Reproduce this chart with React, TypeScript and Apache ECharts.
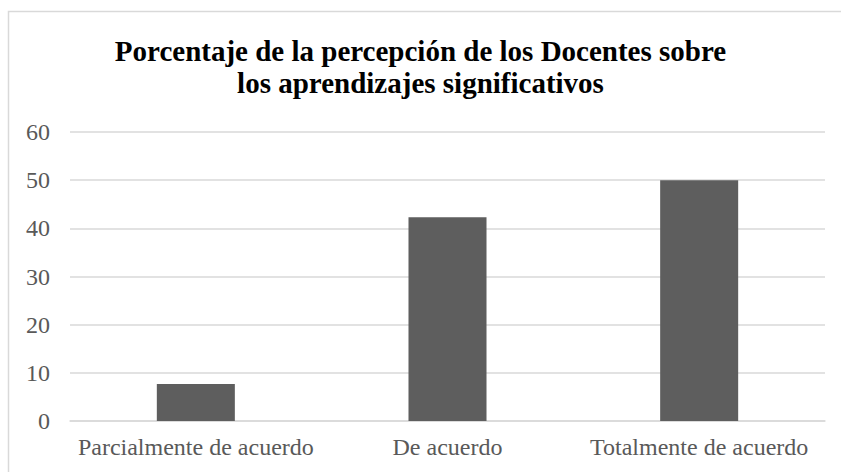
import React, { useEffect, useRef } from "react";
import * as echarts from "echarts";

const titleLines = [
  "Porcentaje de la percepción de los Docentes sobre",
  "los aprendizajes significativos",
];
const categories = ["Parcialmente de acuerdo", "De acuerdo", "Totalmente de acuerdo"];
const values = [7.69, 42.31, 50];
const yMin = 0;
const yMax = 60;
const yInterval = 10;

export default function App() {
  const ref = useRef<HTMLDivElement>(null);
  useEffect(() => {
    if (!ref.current) return;
    const chart = echarts.init(ref.current, undefined, { renderer: "svg" });
    const serif = "Times New Roman, serif";
    chart.setOption({
      animation: false,
      backgroundColor: "#ffffff",
      title: {
        text: titleLines.join("\n"),
        left: "center",
        top: 30,
        textStyle: {
          fontFamily: serif,
          fontWeight: "bold",
          fontSize: 29,
          color: "#000000",
          lineHeight: 32,
        },
      },
      graphic: [
        {
          type: "rect",
          shape: { x: 8.5, y: 11.5, width: 900, height: 600 },
          style: { fill: "none", stroke: "#d9d9d9", lineWidth: 1.5 },
          silent: true,
          z: -1,
        },
      ],
      grid: { left: 70, right: 16, top: 132, bottom: 51, containLabel: false },
      xAxis: {
        type: "category",
        data: categories,
        axisLine: { show: true, lineStyle: { color: "#d9d9d9", width: 1.5 } },
        axisTick: { show: false },
        axisLabel: {
          fontFamily: serif,
          fontSize: 24,
          color: "#595959",
          margin: 14,
          interval: 0,
        },
      },
      yAxis: {
        type: "value",
        min: yMin,
        max: yMax,
        interval: yInterval,
        axisLine: { show: false },
        axisTick: { show: false },
        splitLine: { lineStyle: { color: "#d9d9d9", width: 1.5 } },
        axisLabel: {
          fontFamily: serif,
          fontSize: 24,
          color: "#595959",
          margin: 20,
        },
      },
      series: [
        {
          type: "bar",
          data: values,
          barWidth: "31%",
          itemStyle: { color: "#5e5e5e" },
        },
      ],
    });
    return () => chart.dispose();
  }, []);
  return (
    <div
      ref={ref}
      style={{ position: "absolute", left: 0, top: 0, width: 841, height: 472 }}
    />
  );
}
